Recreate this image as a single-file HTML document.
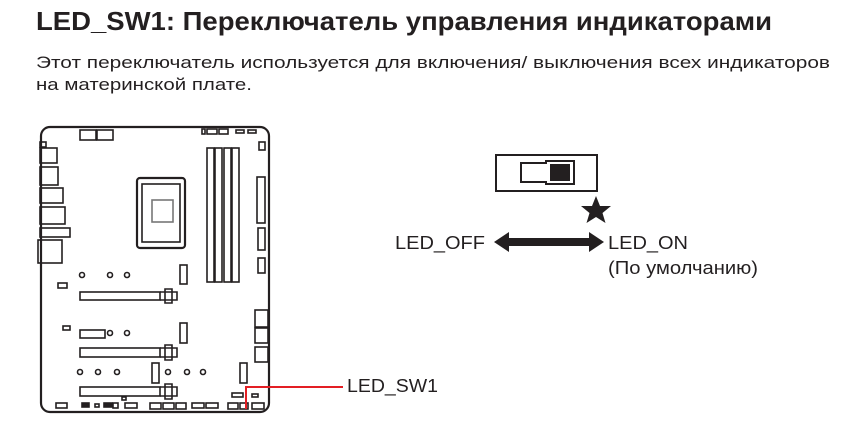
<!DOCTYPE html>
<html><head><meta charset="utf-8"><style>
html,body{margin:0;padding:0;background:#fff;width:852px;height:433px;overflow:hidden}
svg{display:block}
text{font-family:"Liberation Sans","DejaVu Sans",sans-serif;fill:#231f20}
</style></head><body>
<svg width="852" height="433" viewBox="0 0 852 433" xmlns="http://www.w3.org/2000/svg">
<text x="36" y="30" font-size="26" font-weight="bold" textLength="736" lengthAdjust="spacingAndGlyphs">LED_SW1: Переключатель управления индикаторами</text>
<text x="36" y="68" font-size="17" textLength="794" lengthAdjust="spacingAndGlyphs">Этот переключатель используется для включения/ выключения всех индикаторов</text>
<text x="36" y="90" font-size="17" textLength="216" lengthAdjust="spacingAndGlyphs">на материнской плате.</text>

<g fill="none" stroke="#231f20" stroke-width="1.6">
<rect x="41" y="127" width="228" height="285" rx="9" stroke-width="2.2"/>
<rect x="80" y="130" width="16" height="10"/><rect x="97" y="130" width="16" height="10"/>
<rect x="202" y="129" width="3" height="5"/><rect x="207" y="129" width="10" height="5"/><rect x="219" y="129" width="9" height="5"/><rect x="236" y="130" width="8" height="3"/><rect x="248" y="130" width="8" height="3"/>
<rect x="259" y="142" width="6" height="8"/>
<rect x="40" y="142" width="6" height="5"/>
<rect x="40" y="148" width="17" height="15"/><rect x="40" y="167" width="18" height="18"/>
<rect x="40" y="188" width="23" height="15"/><rect x="40" y="207" width="25" height="17"/>
<rect x="40" y="228" width="30" height="9"/><rect x="38" y="240" width="24" height="23"/>
<rect x="137" y="178" width="48" height="70" rx="3" stroke-width="2.2"/>
<rect x="142" y="184" width="38" height="58"/>
<rect x="152" y="200" width="21" height="22" stroke="#777"/>
<rect x="207" y="148" width="7" height="134"/><rect x="215" y="148" width="7" height="134"/><rect x="224" y="148" width="7" height="134"/><rect x="232" y="148" width="7" height="134"/>
<rect x="257" y="177" width="8" height="46"/><rect x="258" y="228" width="7" height="22"/><rect x="258" y="258" width="7" height="15"/>
<rect x="180" y="265" width="7" height="19"/>
<circle cx="82" cy="275" r="2.5"/><circle cx="110" cy="275" r="2.5"/><circle cx="127" cy="275" r="2.5"/>
<rect x="58" y="283" width="9" height="5"/>
<rect x="80" y="292" width="80" height="8"/><path d="M160 292h17v8h-17M165 289h7v14h-7z"/>
<rect x="63" y="326" width="7" height="4"/>
<rect x="80" y="330" width="25" height="8"/><circle cx="110" cy="333" r="2.5"/><circle cx="127" cy="333" r="2.5"/>
<rect x="180" y="323" width="7" height="20"/>
<rect x="255" y="310" width="13" height="17"/><rect x="255" y="328" width="13" height="15"/><rect x="255" y="347" width="13" height="15"/>
<rect x="80" y="348" width="80" height="9"/><path d="M160 348h17v9h-17M165 345h7v15h-7z"/>
<circle cx="80" cy="372" r="2.5"/><circle cx="98" cy="372" r="2.5"/><circle cx="117" cy="372" r="2.5"/>
<rect x="152" y="363" width="7" height="20"/>
<circle cx="168" cy="372" r="2.5"/><circle cx="187" cy="372" r="2.5"/><circle cx="203" cy="372" r="2.5"/>
<rect x="240" y="363" width="7" height="20"/>
<rect x="80" y="387" width="80" height="9"/><path d="M160 387h17v9h-17M165 384h7v15h-7z"/>
<rect x="232" y="393" width="11" height="4"/><rect x="252" y="394" width="6" height="3"/>
<rect x="56" y="403" width="11" height="5"/><rect x="82" y="403" width="7" height="4" fill="#231f20"/><rect x="95" y="404" width="4" height="3"/><rect x="104" y="403" width="8" height="4" fill="#231f20"/><rect x="113" y="403" width="5" height="5"/>
<rect x="122" y="397" width="4" height="3"/><rect x="125" y="403" width="12" height="5"/>
<rect x="150" y="403" width="11" height="6"/><rect x="163" y="403" width="11" height="6"/><rect x="176" y="403" width="10" height="6"/>
<rect x="192" y="403" width="12" height="5"/><rect x="206" y="403" width="12" height="5"/>
<rect x="228" y="403" width="10" height="6"/><rect x="240" y="403" width="8" height="6"/><rect x="252" y="403" width="12" height="6"/>
</g>
<path d="M343 387H246V409" fill="none" stroke="#e31e24" stroke-width="2"/>
<text x="347" y="392" font-size="18" textLength="91" lengthAdjust="spacingAndGlyphs">LED_SW1</text>

<rect x="496" y="155" width="101" height="36" fill="none" stroke="#231f20" stroke-width="2"/>
<path d="M521 163h25v-2h28v23h-28v-2h-25z" fill="none" stroke="#231f20" stroke-width="2"/>
<rect x="550" y="164" width="20" height="17" fill="#231f20"/>
<polygon points="596,196 600,206 611,206 602.5,213 605.5,223 596,217 586.5,223 589.5,213 581,206 592,206" fill="#231f20"/>
<polygon points="494,242 509,232 509,238 589,238 589,232 604,242 589,252 589,246 509,246 509,252" fill="#231f20"/>
<text x="395" y="249" font-size="18" textLength="90" lengthAdjust="spacingAndGlyphs">LED_OFF</text>
<text x="608" y="249" font-size="18" textLength="80" lengthAdjust="spacingAndGlyphs">LED_ON</text>
<text x="608" y="274" font-size="18" textLength="150" lengthAdjust="spacingAndGlyphs">(По умолчанию)</text>
</svg>
</body></html>
